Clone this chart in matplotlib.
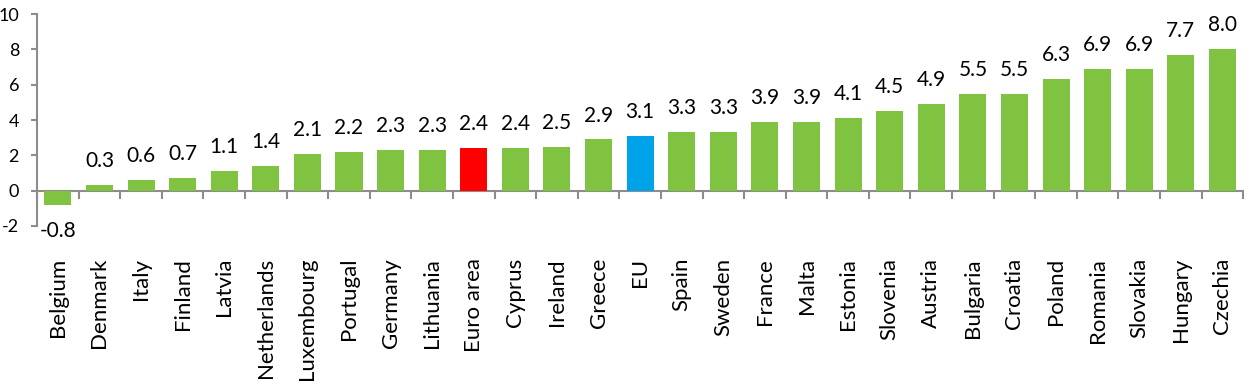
import matplotlib.pyplot as plt

countries = ['Belgium', 'Denmark', 'Italy', 'Finland', 'Latvia', 'Netherlands',
             'Luxembourg', 'Portugal', 'Germany', 'Lithuania', 'Euro area', 'Cyprus',
             'Ireland', 'Greece', 'EU', 'Spain', 'Sweden', 'France', 'Malta', 'Estonia',
             'Slovenia', 'Austria', 'Bulgaria', 'Croatia', 'Poland', 'Romania',
             'Slovakia', 'Hungary', 'Czechia']
values = [-0.8, 0.3, 0.6, 0.7, 1.1, 1.4, 2.1, 2.2, 2.3, 2.3, 2.4, 2.4, 2.5, 2.9, 3.1,
          3.3, 3.3, 3.9, 3.9, 4.1, 4.5, 4.9, 5.5, 5.5, 6.3, 6.9, 6.9, 7.7, 8.0]
yticks = [-2, 0, 2, 4, 6, 8, 10]

plt.rcParams['font.family'] = ['Lato', 'DejaVu Sans']

green = '#80C341'
colors = [green] * len(countries)
colors[countries.index('Euro area')] = '#FF0000'
colors[countries.index('EU')] = '#00A2E8'

fig = plt.figure(figsize=(12.52, 3.85), dpi=100)
ax = fig.add_axes([0.0296, 0.413, 0.9634, 0.5506])

x = list(range(len(countries)))
ax.bar(x, values, width=0.65, color=colors, zorder=2)

for xi, v in zip(x, values):
    if v >= 0:
        ax.annotate(f'{v:.1f}', (xi, v), xytext=(0, 10), textcoords='offset points',
                    ha='center', va='bottom', fontsize=15)
    else:
        ax.annotate(f'{v:.1f}', (xi, v), xytext=(0, -12), textcoords='offset points',
                    ha='center', va='top', fontsize=15)

ax.set_xlim(-0.5, len(countries) - 0.5)
ax.set_ylim(-2, 10)
ax.set_yticks(yticks)
ax.set_yticklabels([str(t) for t in yticks], fontsize=13)

gray = '#8C8C8C'
for s in ['top', 'right', 'bottom']:
    ax.spines[s].set_visible(False)
ax.spines['left'].set_color(gray)
ax.spines['left'].set_linewidth(1.5)
ax.tick_params(axis='y', colors=gray, labelcolor='black', length=4, width=1.5,
               direction='out', pad=9)

# category labels sit at the bottom of the plot
ax.set_xticks(x)
ax.set_xticklabels(countries, rotation=90, fontsize=16)
ax.tick_params(axis='x', length=0, pad=23)

# zero line with ticks between categories
sec = ax.secondary_xaxis((0 - yticks[0]) / (yticks[-1] - yticks[0]))
sec.set_xticks([i - 0.5 for i in range(len(countries) + 1)])
sec.set_xticklabels([])
sec.spines['bottom'].set_color(gray)
sec.spines['bottom'].set_linewidth(1.5)
sec.tick_params(axis='x', colors=gray, length=6, width=1.5, direction='out')

fig.savefig('out.png', dpi=100)
